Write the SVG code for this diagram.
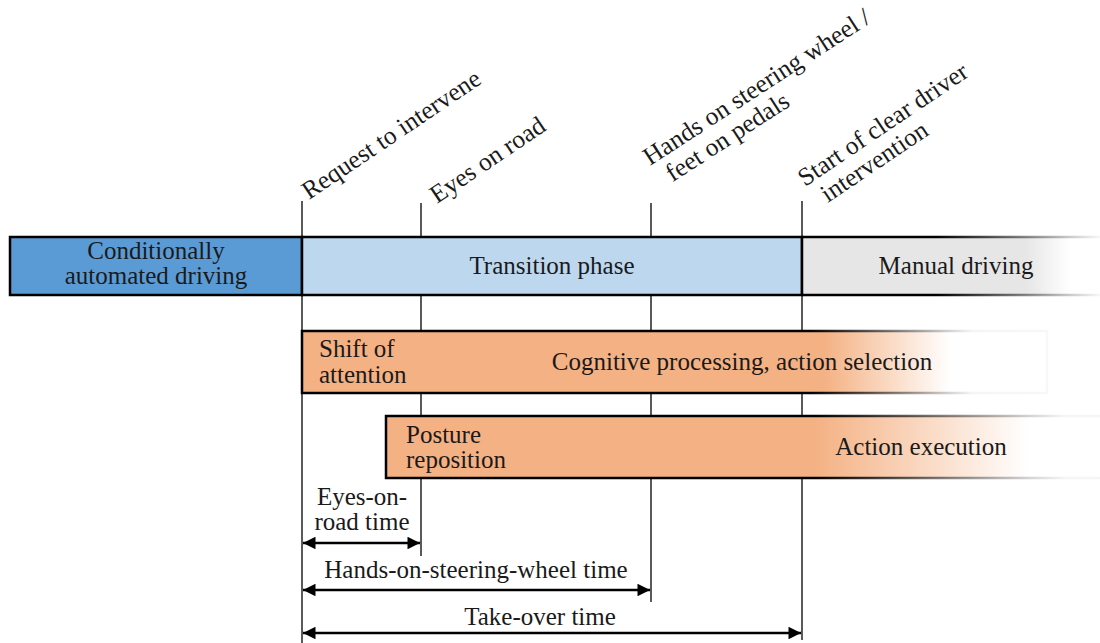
<svg xmlns="http://www.w3.org/2000/svg" width="1100" height="643" viewBox="0 0 1100 643">
  <style>
    text { font-family: "Liberation Serif", "Times New Roman", serif; font-size: 25px; fill: #1a1a1a; }
    .mid { text-anchor: middle; }
    .rot { font-size: 25.5px; }
    .tick { stroke: #000; stroke-width: 1.3; fill: none; }
    .edge { stroke: #000; stroke-width: 2.5; }
    .dim { stroke: #000; stroke-width: 2.5; fill: none; }
  </style>
  <defs>
    <marker id="ah" viewBox="0 0 10 10" refX="10" refY="5" markerWidth="6" markerHeight="5" orient="auto-start-reverse" markerUnits="strokeWidth">
      <path d="M0,0 L10,5 L0,10 Z" fill="#000"/>
    </marker>
    <!-- fading fills and edges for open-ended bars -->
    <linearGradient id="manualFill" gradientUnits="userSpaceOnUse" x1="802" y1="0" x2="1100" y2="0">
      <stop offset="0" stop-color="#e6e6e6"/>
      <stop offset="0.75" stop-color="#e6e6e6"/>
      <stop offset="0.9" stop-color="#ffffff"/>
    </linearGradient>
    <linearGradient id="manualEdge" gradientUnits="userSpaceOnUse" x1="802" y1="0" x2="1100" y2="0">
      <stop offset="0" stop-color="#000"/>
      <stop offset="0.45" stop-color="#000"/>
      <stop offset="1" stop-color="#000" stop-opacity="0.03"/>
    </linearGradient>
    <linearGradient id="cogFill" gradientUnits="userSpaceOnUse" x1="302" y1="0" x2="1047" y2="0">
      <stop offset="0" stop-color="#f4b183"/>
      <stop offset="0.7" stop-color="#f4b183"/>
      <stop offset="0.87" stop-color="#ffffff"/>
    </linearGradient>
    <linearGradient id="cogEdge" gradientUnits="userSpaceOnUse" x1="302" y1="0" x2="1047" y2="0">
      <stop offset="0" stop-color="#000"/>
      <stop offset="0.68" stop-color="#000"/>
      <stop offset="0.9" stop-color="#000" stop-opacity="0.04"/>
      <stop offset="1" stop-color="#000" stop-opacity="0.03"/>
    </linearGradient>
    <linearGradient id="actFill" gradientUnits="userSpaceOnUse" x1="386" y1="0" x2="1100" y2="0">
      <stop offset="0" stop-color="#f4b183"/>
      <stop offset="0.6" stop-color="#f4b183"/>
      <stop offset="0.9" stop-color="#ffffff"/>
    </linearGradient>
    <linearGradient id="actEdge" gradientUnits="userSpaceOnUse" x1="386" y1="0" x2="1100" y2="0">
      <stop offset="0" stop-color="#000"/>
      <stop offset="0.6" stop-color="#000"/>
      <stop offset="0.95" stop-color="#000" stop-opacity="0.04"/>
    </linearGradient>
  </defs>

  <!-- time markers -->
  <g id="markers">
    <line class="tick" x1="302" y1="201" x2="302" y2="643"/>
    <line class="tick" x1="421" y1="203" x2="421" y2="556"/>
    <line class="tick" x1="651" y1="203" x2="651" y2="602"/>
    <line class="tick" x1="802" y1="201" x2="802" y2="640"/>
  </g>

  <g id="event-labels">
    <text class="rot" transform="translate(309,200) rotate(-34)">Request to intervene</text>
    <text class="rot" transform="translate(437,204) rotate(-34)">Eyes on road</text>
    <text class="rot" transform="translate(650,166) rotate(-33)"><tspan x="0" y="0">Hands on steering wheel /</tspan><tspan x="10" y="26">feet on pedals</tspan></text>
    <text class="rot" transform="translate(805,187) rotate(-34)"><tspan x="0" y="0">Start of clear driver</tspan><tspan x="10" y="26">intervention</tspan></text>
  </g>

  <g id="automated">
    <rect x="10" y="237" width="292" height="58" fill="#5b9bd5" class="edge"/>
    <text class="mid" x="156" y="259">Conditionally</text>
    <text class="mid" x="156" y="284">automated driving</text>
  </g>

  <g id="transition">
    <rect x="302" y="237" width="500" height="58" fill="#bdd7ee" class="edge"/>
    <text class="mid" x="552" y="274">Transition phase</text>
  </g>

  <g id="manual">
    <rect x="802" y="237" width="298" height="58" fill="url(#manualFill)"/>
    <line x1="802" y1="237" x2="1100" y2="237" stroke="url(#manualEdge)" stroke-width="2.5"/>
    <line x1="802" y1="295" x2="1100" y2="295" stroke="url(#manualEdge)" stroke-width="2.5"/>
    <line class="edge" x1="802" y1="236" x2="802" y2="296"/>
    <text class="mid" x="956" y="274">Manual driving</text>
  </g>

  <g id="cognitive">
    <rect x="302" y="331" width="745" height="62" fill="url(#cogFill)"/>
    <path d="M1047,331 H302 V393 H1047 Z" fill="none" stroke="url(#cogEdge)" stroke-width="2.5"/>
    <text x="319" y="357">Shift of</text>
    <text x="319" y="383">attention</text>
    <text class="mid" x="742" y="370">Cognitive processing, action selection</text>
  </g>

  <g id="execution">
    <rect x="386" y="416" width="714" height="62" fill="url(#actFill)"/>
    <path d="M1100,416 H386 V478 H1100" fill="none" stroke="url(#actEdge)" stroke-width="2.5"/>
    <text x="406" y="443">Posture</text>
    <text x="406" y="468">reposition</text>
    <text class="mid" x="921" y="455">Action execution</text>
  </g>

  <!-- duration dimensions -->
  <g id="durations">
    <line class="dim" x1="303" y1="543" x2="420" y2="543" marker-start="url(#ah)" marker-end="url(#ah)"/>
    <line class="dim" x1="303" y1="590" x2="650" y2="590" marker-start="url(#ah)" marker-end="url(#ah)"/>
    <line class="dim" x1="303" y1="633" x2="801" y2="633" marker-start="url(#ah)" marker-end="url(#ah)"/>
    <text class="mid" x="362" y="505">Eyes-on-</text>
    <text class="mid" x="362" y="530">road time</text>
    <text class="mid" x="476" y="578">Hands-on-steering-wheel time</text>
    <text class="mid" x="540" y="625">Take-over time</text>
  </g>
</svg>
